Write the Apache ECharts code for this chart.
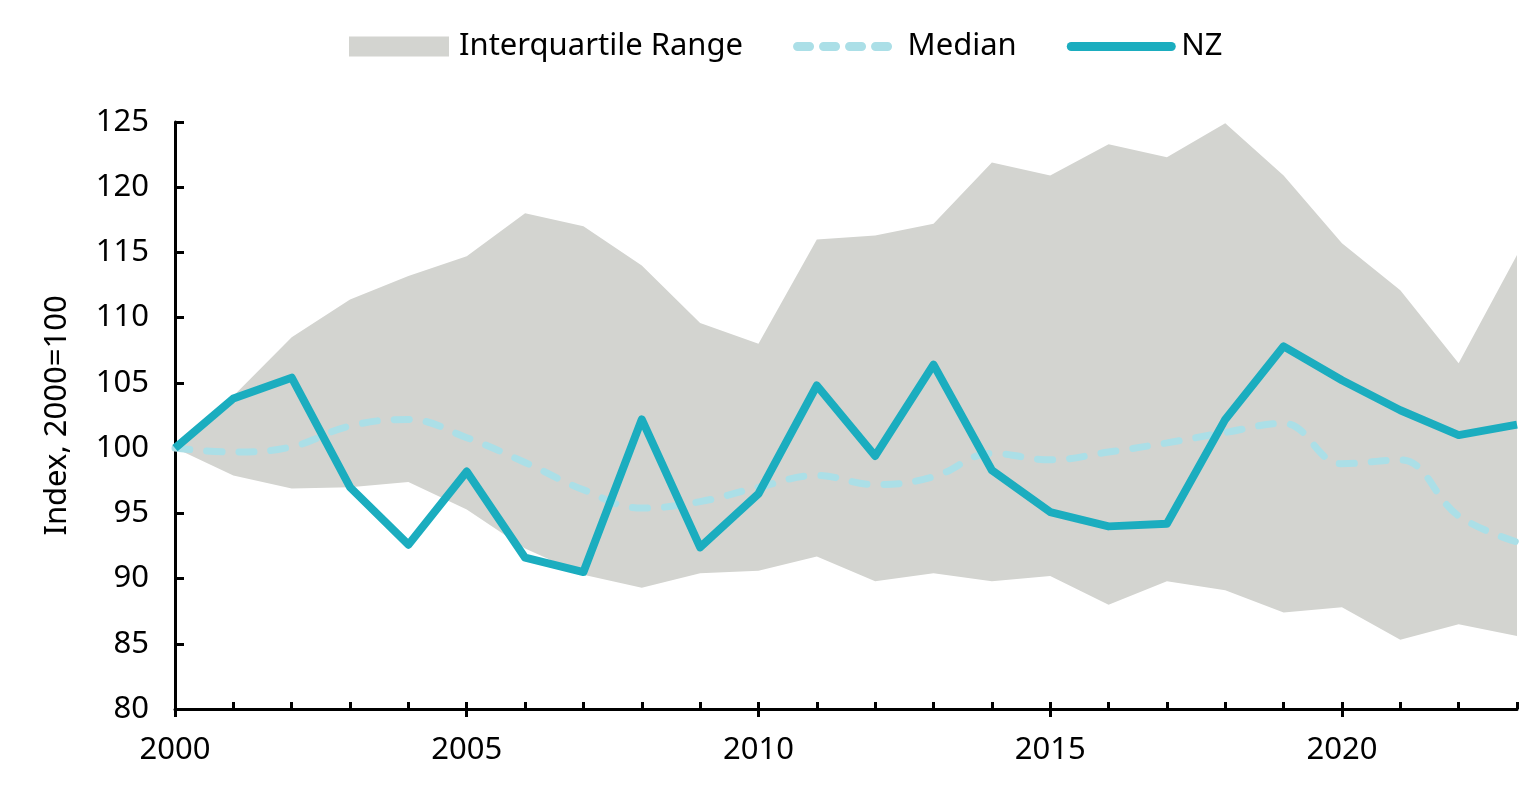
<!DOCTYPE html>
<html>
<head>
<meta charset="utf-8">
<script src="https://cdn.jsdelivr.net/npm/echarts@6/dist/echarts.min.js"></script>
<style>
html,body{margin:0;padding:0;background:#fff;}
#chart{width:1528px;height:790px;}
</style>
</head>
<body>
<div id="chart"></div>
<script>
const years = ['2000','2001','2002','2003','2004','2005','2006','2007','2008','2009','2010','2011','2012','2013','2014','2015','2016','2017','2018','2019','2020','2021','2022','2023'];
const upperQuartile = [100,104.0,108.5,111.4,113.2,114.7,118.0,117.0,114.0,109.6,108.0,116.0,116.3,117.2,121.9,120.9,123.3,122.3,124.9,120.9,115.7,112.1,106.5,114.8];
const lowerQuartile = [100,97.9,96.9,97.0,97.4,95.3,92.3,90.3,89.3,90.4,90.6,91.7,89.8,90.4,89.8,90.2,88.0,89.8,89.1,87.4,87.8,85.3,86.5,85.6];
const median = [100,99.7,100.1,101.7,102.2,100.8,98.9,96.8,95.4,95.9,97.0,97.9,97.2,97.8,99.6,99.1,99.7,100.4,101.2,101.9,98.8,99.1,94.8,92.8];
const nz = [100,103.8,105.4,97.0,92.6,98.2,91.6,90.5,102.2,92.4,96.5,104.8,99.4,106.4,98.3,95.1,94.0,94.2,102.2,107.8,105.2,102.9,101.0,101.8];

const bandWidth = upperQuartile.map((u, i) => +(u - lowerQuartile[i]).toFixed(2));
const FONT = 'Noto Sans';
const FS = 31;

const chart = echarts.init(document.getElementById('chart'));
chart.setOption({
  animation: false,
  textStyle: {fontFamily: FONT, color: '#000'},
  legend: {
    top: 26,
    left: 344,
    itemWidth: 100,
    itemHeight: 20,
    itemGap: 50,
    textStyle: {fontSize: FS, fontFamily: FONT, color: '#000', padding: [0, 0, 0, 5]},
    data: [
      {name: 'Interquartile Range', icon: 'rect'},
      {name: 'Median', itemStyle: {opacity: 0}, lineStyle: {width: 9, type: [12, 14], cap: 'round'}},
      {name: 'NZ', itemStyle: {opacity: 0}, lineStyle: {width: 9, cap: 'round'}}
    ]
  },
  grid: {left: 175, right: 11, top: 122, bottom: 81},
  xAxis: [
    {
      type: 'category',
      data: years,
      boundaryGap: false,
      position: 'bottom',
      axisLine: {lineStyle: {color: '#000', width: 3}},
      axisTick: {show: true, inside: true, length: 7, interval: 0, lineStyle: {color: '#000', width: 3}},
      axisLabel: {interval: 4, fontSize: FS, color: '#000', margin: 26, fontFamily: FONT},
      splitLine: {show: false}
    },
    {
      type: 'category',
      data: years,
      boundaryGap: false,
      position: 'bottom',
      axisLine: {show: false},
      axisTick: {show: true, inside: false, length: 8, interval: 4, lineStyle: {color: '#000', width: 3}},
      axisLabel: {show: false},
      splitLine: {show: false}
    }
  ],
  yAxis: {
    type: 'value',
    min: 80,
    max: 125,
    interval: 5,
    name: 'Index, 2000=100',
    nameLocation: 'middle',
    nameGap: 102,
    nameRotate: 90,
    nameTextStyle: {fontSize: FS, color: '#000', fontFamily: FONT},
    axisLine: {show: true, lineStyle: {color: '#000', width: 3}},
    axisTick: {show: true, inside: true, length: 9, lineStyle: {color: '#000', width: 3}},
    axisLabel: {fontSize: FS, color: '#000', margin: 26, fontFamily: FONT},
    splitLine: {show: false}
  },
  series: [
    {
      name: 'lower',
      type: 'line',
      stack: 'band',
      data: lowerQuartile,
      symbol: 'none',
      lineStyle: {opacity: 0},
      silent: true,
      z: 1
    },
    {
      name: 'Interquartile Range',
      type: 'line',
      stack: 'band',
      data: bandWidth,
      symbol: 'none',
      itemStyle: {color: '#d3d4d0'},
      lineStyle: {opacity: 0, width: 0},
      areaStyle: {color: '#d3d4d0', opacity: 1},
      silent: true,
      z: 1
    },
    {
      name: 'Median',
      type: 'line',
      data: median,
      smooth: 0.4,
      symbol: 'none',
      itemStyle: {color: '#abdfe7'},
      lineStyle: {color: '#abdfe7', width: 7, type: [15, 17], cap: 'round'},
      z: 3
    },
    {
      name: 'NZ',
      type: 'line',
      data: nz,
      symbol: 'none',
      itemStyle: {color: '#1badbf'},
      lineStyle: {color: '#1badbf', width: 8, join: 'round'},
      z: 4
    }
  ]
});
</script>
</body>
</html>
